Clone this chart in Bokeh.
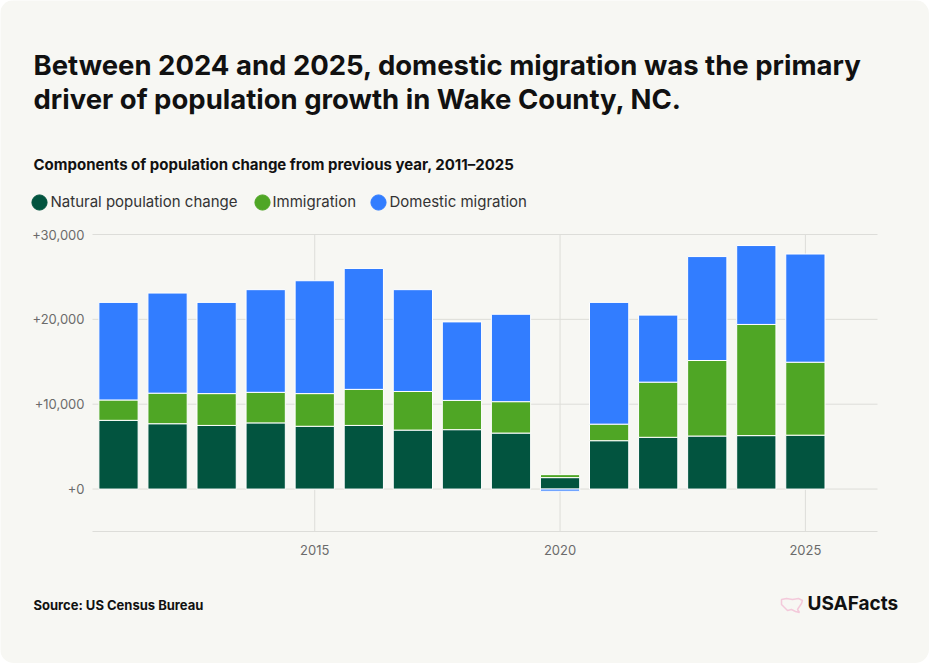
import numpy as np
from bokeh.plotting import figure
from bokeh.models import (ColumnDataSource, Range1d, Label, Legend, LegendItem,
                          PolyAnnotation)
from bokeh.core.properties import value
from bokeh.embed import file_html
from bokeh.resources import INLINE

# Components of population change, Wake County, NC
years = [2011, 2012, 2013, 2014, 2015, 2016, 2017, 2018, 2019,
         2020, 2021, 2022, 2023, 2024, 2025]
natural = [8100, 7700, 7500, 7800, 7400, 7500, 6950, 7000, 6600,
           1350, 5700, 6100, 6250, 6300, 6350]
immigration = [2400, 3600, 3750, 3600, 3850, 4250, 4550, 3450, 3700,
               350, 1950, 6500, 8900, 13100, 8600]
domestic = [11500, 11800, 10750, 12100, 13300, 14250, 12000, 9250, 10300,
            -250, 14350, 7900, 12250, 9300, 12750]

series_names = ["Natural population change", "Immigration", "Domestic migration"]
series_colors = ["#02543F", "#4FA625", "#327DFF"]

y_ticks = [0, 10000, 20000, 30000]
y_labels = ["+0", "+10,000", "+20,000", "+30,000"]
x_ticks = [2015, 2020, 2025]
x_labels = ["2015", "2020", "2025"]

title_lines = ["Between 2024 and 2025, domestic migration was the primary",
               "driver of population growth in Wake County, NC."]
subtitle = "Components of population change from previous year, 2011\u20132025"
source_text = "Source: US Census Bureau"
brand = "USAFacts"

# stacked segments; a negative domestic value hangs below zero
nat = np.array(natural, dtype=float)
imm = np.array(immigration, dtype=float)
dom = np.array(domestic, dtype=float)
imm_top = nat + imm
dom_bottom = np.where(dom >= 0, imm_top, 0.0)
dom_top = np.where(dom >= 0, imm_top + dom, dom)

src = ColumnDataSource(dict(
    x=years,
    nat_b=np.zeros_like(nat), nat_t=nat,
    imm_b=nat, imm_t=imm_top,
    dom_b=dom_bottom, dom_t=dom_top,
))

# page geometry: the plot area occupies pixels FL..FR x FT..FB of the card
W, H = 929, 663
FL, FR, FT, FB = 92, 877, 234, 531
x_lo, x_hi = 2010.47, 2026.47      # plot-area limits (years)
y_lo, y_hi = -5000, 30000          # plot-area limits (people)
kx = (FR - FL) / (x_hi - x_lo)
ky = (FB - FT) / (y_hi - y_lo)

BG = "#F7F7F3"
GRID = "#DDDDD9"
INK = "#111111"
TICK = "#6B6B6B"
FONT = "Inter"

p = figure(width=W, height=H, output_backend="svg", toolbar_location=None,
           x_range=Range1d(x_lo - FL / kx, x_hi + (W - FR) / kx),
           y_range=Range1d(y_lo - (H - FB) / ky, y_hi + FT / ky),
           x_axis_location=None, y_axis_location=None, min_border=0)
p.background_fill_color = BG
p.border_fill_color = BG
p.outline_line_color = None
p.grid.visible = False
p.styles = {"border-radius": "14px", "overflow": "hidden"}

# grid lines and baseline
p.segment(x0=x_lo, x1=x_hi, y0=y_ticks, y1=y_ticks, line_color=GRID, line_width=1)
p.segment(x0=x_ticks, x1=x_ticks, y0=y_lo, y1=y_hi, line_color=GRID, line_width=1)
p.segment(x0=[x_lo], x1=[x_hi], y0=[y_lo], y1=[y_lo], line_color=GRID, line_width=1)

# tick labels
p.text(x=x_lo, y=y_ticks, text=y_labels, x_offset=-8,
       text_align="right", text_baseline="middle",
       text_font=value(FONT), text_font_size="13px", text_color=TICK)
p.text(x=x_ticks, y=y_lo, text=x_labels, y_offset=13,
       text_align="center", text_baseline="top",
       text_font=value(FONT), text_font_size="13px", text_color=TICK)

# bars
bw = 0.8
for (b, t), color in zip([("nat_b", "nat_t"), ("imm_b", "imm_t"), ("dom_b", "dom_t")],
                         series_colors):
    p.vbar(x="x", bottom=b, top=t, width=bw, source=src,
           fill_color=color, line_color="white", line_width=1)


def text(x, y, s, size, color=INK, bold=False, align="left"):
    # x, y: anchor position in page pixels, measured from the top-left
    p.add_layout(Label(x=x, y=H - y, x_units="screen", y_units="screen",
                       text=s, text_font=FONT, text_font_size=size,
                       text_font_style="bold" if bold else "normal",
                       text_color=color, text_align=align,
                       text_baseline="alphabetic"))


text(33, 64, title_lines[0], "27.5px", bold=True)
text(33, 98, title_lines[1], "27.5px", bold=True)
text(33, 164, subtitle, "15px", bold=True)
text(33, 604, source_text, "13px", bold=True)
text(807, 603, brand, "19px", bold=True)

# legend: circle swatches from single-item legends, names as labels beside them
legend_x = [20, 243, 359]        # left edge of each swatch box
legend_text_x = [50, 272, 389]   # start of each series name
for name, color, lx, tx in zip(series_names, series_colors, legend_x, legend_text_x):
    r = p.scatter(x=np.array([np.nan]), y=np.array([np.nan]), marker="circle",
                  fill_color=color, line_color=color, size=15)
    lg = Legend(items=[LegendItem(label=" ", renderers=[r])],
                location=(lx, H - 221),
                orientation="horizontal", padding=0, margin=0,
                glyph_width=38, glyph_height=38, label_standoff=0,
                background_fill_alpha=0, border_line_alpha=0,
                label_text_font_size="1px")
    p.add_layout(lg, "center")
    text(tx, 201, name, "15px", color="#333333")

# brand mark: small map outline
mark_x = [781, 786, 792, 798, 802, 801, 799, 797, 799, 795, 791, 787, 784, 781]
mark_y = [599, 598, 599, 598, 600, 603, 606, 609, 612, 611, 609, 610, 607, 604]
p.add_layout(PolyAnnotation(xs=mark_x, ys=[H - y for y in mark_y],
                            xs_units="screen", ys_units="screen",
                            fill_alpha=0, line_color="#EC5FA3", line_width=1.5))

open("out.html", "w").write(file_html(p, INLINE))
